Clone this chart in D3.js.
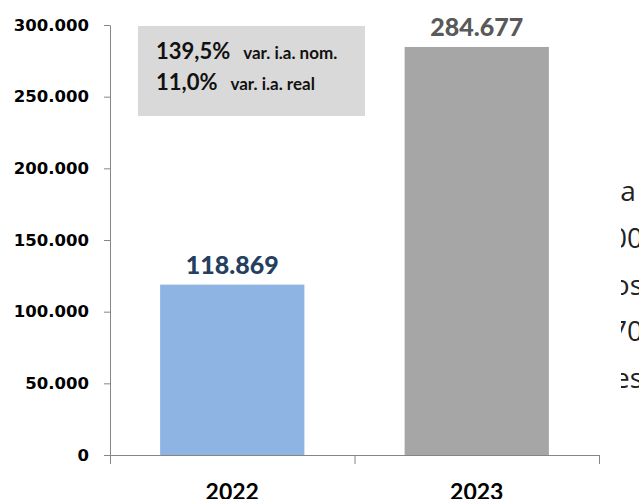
<!DOCTYPE html>
<html>
<head>
  <meta charset="utf-8">
  <script src="https://d3js.org/d3.v7.min.js"></script>
  <style>
    body { margin: 0; padding: 0; background: #fff; }
    svg { display: block; }
    .y-axis text { font-family: "DejaVu Sans", Verdana, sans-serif; font-weight: bold; font-size: 16.5px; fill: #000; }
    .axis path, .axis line { stroke: #868686; }
    .cat { font-family: Lato, "Open Sans", sans-serif; font-weight: bold; font-size: 23px; fill: #000; }
    .val { font-family: Lato, "Open Sans", sans-serif; font-weight: 900; font-size: 25px; }
    .big { font-family: Lato, "Open Sans", sans-serif; font-weight: bold; font-size: 22px; fill: #111; }
    .small { font-family: Lato, "Open Sans", sans-serif; font-weight: bold; font-size: 17px; fill: #111; }
    .side { font-family: "Open Sans", sans-serif; font-size: 28px; fill: #222; }
  </style>
</head>
<body>
<script>

  // data
  var years = ["2022", "2023"];
  var values = [118869, 284677];
  var barColors = ["#8EB4E3", "#A6A6A6"];
  var labelColors = ["#243F60", "#595959"];
  var yTicks = [0, 50000, 100000, 150000, 200000, 250000, 300000];
  var notePct = ["139,5%", "11,0%"];
  var noteText = ["var. i.a. nom.", "var. i.a. real"];
  var sideText = ["a\u00a0", "000", "dos", "970", "mes"];

  var W = 639, H = 499;
  var mLeft = 110, mRight = 599, mTop = 25, mBottom = 455;

  var svg = d3.select("body").append("svg")
      .attr("width", W)
      .attr("height", H);

  // text of the page behind, cut off by the chart
  svg.append("clipPath").attr("id", "sideclip")
    .append("rect").attr("x", 621).attr("y", 0).attr("width", 40).attr("height", H);

  svg.append("g").attr("clip-path", "url(#sideclip)")
    .selectAll("text")
    .data(sideText)
    .enter().append("text")
      .attr("class", "side")
      .attr("x", 643)
      .attr("y", function(d, i) { return 201 + i * 46.8; })
      .attr("text-anchor", "end")
      .text(function(d) { return d; });

  var y = d3.scaleLinear()
      .domain([0, 300000])
      .range([mBottom, mTop]);

  var xb = d3.scaleBand()
      .domain(years)
      .range([mLeft, mRight]);

  var x = d3.scaleBand()
      .domain(years)
      .range([mLeft, mRight])
      .paddingInner(0.41)
      .paddingOuter(0.205);

  var fmt = function(v) { return d3.format(",")(v).replace(/,/g, "."); };

  // bars
  svg.selectAll(".bar")
      .data(values)
    .enter().append("rect")
      .attr("class", "bar")
      .attr("x", function(d, i) { return x(years[i]); })
      .attr("y", function(d) { return y(d); })
      .attr("width", x.bandwidth())
      .attr("height", function(d) { return mBottom - y(d); })
      .attr("fill", function(d, i) { return barColors[i]; });

  svg.selectAll(".val")
      .data(values)
    .enter().append("text")
      .attr("class", "val")
      .attr("x", function(d, i) { return x(years[i]) + x.bandwidth() / 2; })
      .attr("y", function(d) { return y(d) - 10.5; })
      .attr("text-anchor", "middle")
      .attr("fill", function(d, i) { return labelColors[i]; })
      .text(function(d) { return fmt(d); });

  // y axis
  svg.append("g")
      .attr("class", "axis y-axis")
      .attr("transform", "translate(" + mLeft + ",0)")
      .call(d3.axisLeft(y)
        .tickValues(yTicks)
        .tickSize(6)
        .tickSizeOuter(0)
        .tickPadding(15)
        .tickFormat(fmt));

  // x axis
  var xAxis = svg.append("g")
      .attr("class", "axis x-axis")
      .attr("transform", "translate(0," + mBottom + ")")
      .call(d3.axisBottom(xb).tickSize(0).tickSizeOuter(0).tickFormat(""));

  var bounds = years.map(function(d) { return xb(d); }).concat([xb.range()[1]]);
  xAxis.selectAll(".bound")
      .data(bounds)
    .enter().append("line")
      .attr("class", "bound")
      .attr("x1", function(d) { return d + 0.5; })
      .attr("x2", function(d) { return d + 0.5; })
      .attr("y1", 0)
      .attr("y2", 9);

  svg.selectAll(".cat")
      .data(years)
    .enter().append("text")
      .attr("class", "cat")
      .attr("x", function(d) { return xb(d) + xb.bandwidth() / 2; })
      .attr("y", 500)
      .attr("text-anchor", "middle")
      .text(function(d) { return d; });

  // variation box
  var note = svg.append("g");
  note.append("rect")
      .attr("x", 138)
      .attr("y", 26)
      .attr("width", 227)
      .attr("height", 90)
      .attr("fill", "#D9D9D9");

  notePct.forEach(function(p, i) {
    var t = note.append("text")
        .attr("x", 156)
        .attr("y", 59 + i * 30.5);
    t.append("tspan").attr("class", "big").text(p);
    t.append("tspan").attr("class", "small").attr("dx", 13).text(noteText[i]);
  });

</script>
</body>
</html>
